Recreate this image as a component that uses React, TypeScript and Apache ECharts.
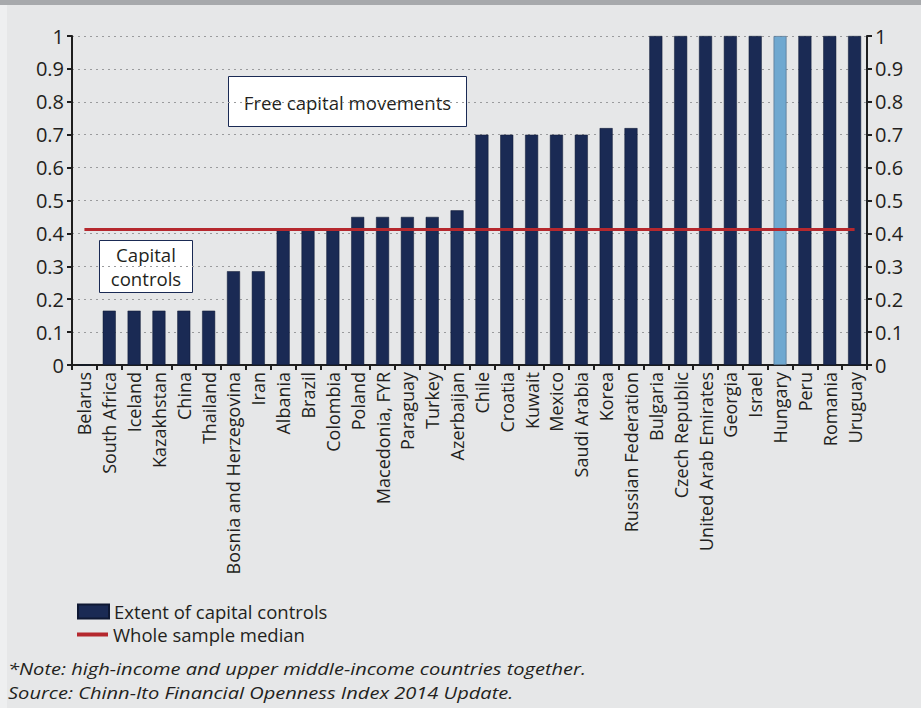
import React, { useEffect, useRef } from "react";
import * as echarts from "echarts";

const countries = [
  "Belarus", "South Africa", "Iceland", "Kazakhstan", "China", "Thailand",
  "Bosnia and Herzegovina", "Iran", "Albania", "Brazil", "Colombia", "Poland",
  "Macedonia, FYR", "Paraguay", "Turkey", "Azerbaijan", "Chile", "Croatia",
  "Kuwait", "Mexico", "Saudi Arabia", "Korea", "Russian Federation", "Bulgaria",
  "Czech Republic", "United Arab Emirates", "Georgia", "Israel", "Hungary",
  "Peru", "Romania", "Uruguay",
];
const controls = [
  0, 0.165, 0.165, 0.165, 0.165, 0.165,
  0.285, 0.285, 0.41, 0.41, 0.41, 0.45,
  0.45, 0.45, 0.45, 0.47, 0.70, 0.70,
  0.70, 0.70, 0.70, 0.72, 0.72, 1,
  1, 1, 1, 1, 1,
  1, 1, 1,
];
const medianValue = 0.412;
const highlighted = "Hungary";
const yTicks = [0, 0.1, 0.2, 0.3, 0.4, 0.5, 0.6, 0.7, 0.8, 0.9, 1];

const NAVY = "#1a2a54";
const LIGHT = "#6fa8d0";
const RED = "#b5282e";
const TXT = "#231f20";
const FONT = "'Open Sans', sans-serif";

export default function App() {
  const ref = useRef<HTMLDivElement>(null);
  useEffect(() => {
    if (!ref.current) return;
    const chart = echarts.init(ref.current, null, { renderer: "svg" });
    const yAxisBase = (position: "left" | "right") => ({
      type: "value",
      position,
      min: 0,
      max: 1,
      interval: 0.1,
      axisLine: { show: true, lineStyle: { color: "#1e1e1e", width: 2 } },
      axisTick: { show: true, inside: false, length: 5, lineStyle: { color: "#1e1e1e", width: 2 } },
      axisLabel: {
        color: TXT,
        fontFamily: FONT,
        fontSize: 20,
        margin: 8,
        formatter: (v: number) => {
          const t = yTicks.find((x) => Math.abs(x - v) < 1e-6);
          return t === undefined ? "" : String(Number(t.toFixed(1)));
        },
      },
      splitLine: position === "left"
        ? { show: true, lineStyle: { color: "#9a9b9d", type: [2, 4], width: 1 } }
        : { show: false },
    });
    chart.setOption({
      animation: false,
      backgroundColor: "#e6e7e8",
      textStyle: { fontFamily: FONT },
      grid: { left: 72, right: 54, top: 36, bottom: 343, containLabel: false },
      xAxis: {
        type: "category",
        data: countries,
        axisLine: { show: true, lineStyle: { color: "#1e1e1e", width: 2 } },
        axisTick: { show: true, length: 5, lineStyle: { color: "#1e1e1e", width: 2 } },
        axisLabel: {
          rotate: 90,
          interval: 0,
          color: TXT,
          fontFamily: FONT,
          fontSize: 18,
          margin: 7,
        },
      },
      yAxis: [yAxisBase("left"), yAxisBase("right")],
      legend: [
        {
          data: ["Extent of capital controls"],
          left: 72,
          top: 597,
          itemWidth: 31,
          itemHeight: 14,
          icon: "rect",
          textStyle: { color: TXT, fontFamily: FONT, fontSize: 18.5 },
          itemGap: 4,
        },
        {
          data: ["Whole sample median"],
          left: 72,
          top: 620,
          itemWidth: 31,
          itemHeight: 4,
          icon: "rect",
          textStyle: { color: TXT, fontFamily: FONT, fontSize: 18.5 },
        },
      ],
      series: [
        {
          name: "Extent of capital controls",
          type: "bar",
          barWidth: 13,
          itemStyle: { color: NAVY, borderColor: "#0e1833", borderWidth: 0.5 },
          data: countries.map((c, i) =>
            c === highlighted
              ? { value: controls[i], itemStyle: { color: LIGHT, borderColor: "#5a7a95", borderWidth: 0.8 } }
              : controls[i]
          ),
          z: 2,
        },
        {
          name: "Whole sample median",
          type: "line",
          data: countries.map(() => medianValue),
          symbol: "none",
          itemStyle: { color: RED },
          lineStyle: { color: RED, width: 3 },
          z: 3,
        },
      ],
      graphic: [
        { type: "rect", left: 0, top: 0, shape: { width: 921, height: 5 }, style: { fill: "#a7a9ac" } },
        { type: "rect", left: 0, top: 5, shape: { width: 7, height: 703 }, style: { fill: "#eeeff0" } },
        {
          type: "group",
          left: 228,
          top: 76,
          children: [
            { type: "rect", shape: { width: 238, height: 50 }, style: { fill: "#ffffff", stroke: "#1a2a54", lineWidth: 1 } },
            {
              type: "text",
              x: 119,
              y: 26,
              style: { text: "Free capital movements", fill: TXT, font: `18.6px ${FONT}`, align: "center", verticalAlign: "middle" },
            },
          ],
          z: 10,
        },
        {
          type: "group",
          left: 99,
          top: 240,
          children: [
            { type: "rect", shape: { width: 93, height: 52 }, style: { fill: "#ffffff", stroke: "#1a2a54", lineWidth: 1 } },
            {
              type: "text",
              x: 46.5,
              y: 26,
              style: { text: "Capital\ncontrols", fill: TXT, font: `18.6px ${FONT}`, align: "center", verticalAlign: "middle", lineHeight: 24 },
            },
          ],
          z: 10,
        },
        {
          type: "text",
          x: 8,
          y: 660,
          scaleX: 1.18,
          style: {
            text: "*Note: high-income and upper middle-income countries together.",
            fill: TXT,
            font: `italic 17px ${FONT}`,
            verticalAlign: "top",
          },
        },
        {
          type: "text",
          x: 8,
          y: 684,
          scaleX: 1.18,
          style: {
            text: "Source: Chinn-Ito Financial Openness Index 2014 Update.",
            fill: TXT,
            font: `italic 17px ${FONT}`,
            verticalAlign: "top",
          },
        },
      ],
    });
    return () => chart.dispose();
  }, []);
  return (
    <div
      ref={ref}
      style={{ position: "absolute", left: 0, top: 0, width: 921, height: 708 }}
    />
  );
}
